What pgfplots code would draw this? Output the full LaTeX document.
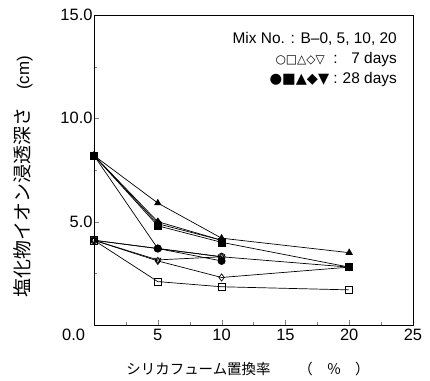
\documentclass[border=0pt]{standalone}
\usepackage{pgfplots}
\pgfplotsset{compat=1.18}
\usepackage{fontspec}
\setmainfont{Liberation Sans}
\newfontfamily\jp{Noto Sans CJK JP}
\newfontfamily\sym{DejaVu Sans}
\begin{document}
\begin{tikzpicture}
\useasboundingbox (-94bp,-56bp) rectangle (336bp,325bp);
\begin{axis}[
  at={(0,0)}, anchor=south west,
  width=319bp, height=310bp, scale only axis,
  xmin=0, xmax=25, ymin=0, ymax=15,
  xtick={0,5,10,15,20,25},
  xticklabels={\makebox[0pt][r]{0.0\hspace{9bp}},5,10,15,20,25},
  ytick={0,5,10,15},
  yticklabels={,5.0,10.0,15.0},
  minor x tick num=1, minor y tick num=1,
  tick align=inside, xtick pos=bottom, ytick pos=left,
  major tick length=5pt, minor tick length=3pt,
  /pgf/number format/assume math mode=true,
  tick label style={font=\fontsize{16.5}{18}\selectfont},
  xticklabel style={yshift=-1pt},
  yticklabel style={xshift=2pt},
  xlabel={\jp シリカフューム置換率\hspace{28pt}（\hspace{14pt}％\hspace{14pt}）},
  ylabel={{\jp\fontsize{19}{21}\selectfont 塩化物イオン浸透深さ}\hspace{18pt}(cm)},
  xlabel style={font=\fontsize{14.5}{17}\selectfont, at={(axis description cs:0.483,-0.142)}, anchor=center},
  ylabel style={font=\fontsize{17}{19}\selectfont, at={(axis description cs:-0.2226,0.479)}, anchor=center},
  axis line style={line width=0.9pt},
  every axis plot/.append style={black, line width=0.7pt, mark size=3.6pt},
  clip=false,
]
% 7 days (open)
\addplot[mark=o, mark options={fill=white}] coordinates {(0,4.1) (5,3.7) (10,3.3)};
\addplot[mark=square, mark options={fill=white}] coordinates {(0,4.1) (5,2.1) (10,1.85) (20,1.7)};
\addplot[mark=triangle, mark options={fill=white}] coordinates {(0,4.1) (5,3.7) (10,3.3) (20,2.8)};
\addplot[mark=diamond, mark options={fill=white}] coordinates {(0,4.1) (5,3.1) (10,2.3) (20,2.8)};
\addplot[mark=triangle, mark options={fill=white, rotate=180}] coordinates {(0,4.1) (5,3.15) (10,3.3)};
% 28 days (filled)
\addplot[mark=triangle*, mark options={fill=black}] coordinates {(0,8.2) (5,5.9) (10,4.2) (20,3.5)};
\addplot[mark=diamond*, mark options={fill=black}] coordinates {(0,8.2) (5,5.0) (10,4.1)};
\addplot[mark=*, mark options={fill=black}] coordinates {(0,8.2) (5,3.7) (10,3.1)};
\addplot[mark=square*, mark options={fill=black}] coordinates {(0,8.2) (5,4.8) (10,4.0) (20,2.8)};
\addplot[mark=triangle*, mark options={fill=black, rotate=180}] coordinates {(0,8.2) (5,4.9) (10,4.1)};
\node[anchor=north east, inner sep=0pt, align=right, font=\fontsize{15.5}{20}\selectfont] at ([xshift=-16bp,yshift=-17bp]rel axis cs:1,1)
  {Mix No. : B–0, 5, 10, 20\\
   {\sym\fontsize{12}{14}\selectfont ○□△◇▽}\ \ :\ \makebox[3.55em][r]{7 days}\\
   {\sym\fontsize{14.5}{16}\selectfont ●■▲◆▼}\ :\ \makebox[3.55em][r]{28 days}};
\end{axis}
\end{tikzpicture}
\end{document}
